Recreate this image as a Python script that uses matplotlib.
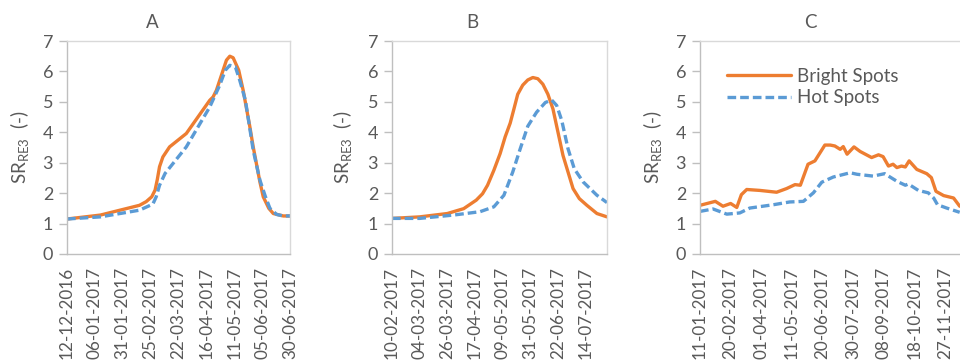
import numpy as np
import matplotlib
matplotlib.use("Agg")
import matplotlib.pyplot as plt
import matplotlib.dates as mdates

plt.rcParams['font.family'] = ['Lato', 'DejaVu Sans']
plt.rcParams['mathtext.fontset'] = 'custom'
plt.rcParams['mathtext.rm'] = 'Lato'

# ---------------- DATA (days after the first tick date) ----------------
a_start = "2016-12-12"
a_days = [0, 30, 65, 71, 76, 79, 81, 83, 86, 92, 107, 128, 131, 134, 140, 143, 146, 149,
          154, 158, 164, 167, 173, 176, 181, 185, 194, 200]
a_bright = [1.15, 1.28, 1.60, 1.72, 1.88, 2.10, 2.45, 2.87, 3.19, 3.52, 3.96, 5.05, 5.16,
            5.38, 6.04, 6.37, 6.50, 6.45, 6.04, 5.38, 4.18, 3.52, 2.37, 1.88, 1.50, 1.33,
            1.25, 1.25]
a_hot_days = [0, 30, 65, 77, 80, 83, 88, 95, 107, 128, 137, 142, 146, 151, 155, 160, 167,
              173, 178, 182, 188, 194, 200]
a_hot = [1.15, 1.22, 1.44, 1.64, 1.88, 2.26, 2.65, 2.97, 3.52, 4.83, 5.55, 6.04, 6.20, 6.15,
         5.70, 5.05, 3.41, 2.43, 1.88, 1.50, 1.30, 1.25, 1.25]
a_ticks = ["12-12-2016", "06-01-2017", "31-01-2017", "25-02-2017", "22-03-2017",
           "16-04-2017", "11-05-2017", "05-06-2017", "30-06-2017"]

b_start = "2017-02-10"
b_days = [0, 22, 44, 57, 67, 72, 76, 81, 86, 90, 94, 97, 100, 104, 108, 112, 116, 120, 124,
          128, 136, 144, 149, 155, 163, 171]
b_bright = [1.17, 1.22, 1.33, 1.49, 1.77, 1.98, 2.26, 2.75, 3.30, 3.85, 4.30, 4.77, 5.25,
            5.55, 5.72, 5.80, 5.76, 5.58, 5.25, 4.77, 3.24, 2.15, 1.82, 1.60, 1.33, 1.22]
b_hot_days = [0, 22, 49, 70, 81, 89, 96, 102, 108, 115, 122, 127, 131, 135, 140, 145, 152,
              163, 171]
b_hot = [1.17, 1.17, 1.28, 1.39, 1.55, 1.93, 2.69, 3.46, 4.20, 4.66, 4.98, 5.06, 4.88, 4.39,
         3.46, 2.80, 2.37, 1.93, 1.69]
b_ticks = ["10-02-2017", "04-03-2017", "26-03-2017", "17-04-2017", "09-05-2017",
           "31-05-2017", "22-06-2017", "14-07-2017"]

c_start = "2017-01-11"
c_days = [0, 20, 30, 40, 48, 54, 61, 78, 100, 113, 124, 131, 141, 150, 163, 170, 176, 183,
          187, 192, 201, 209, 224, 233, 239, 246, 252, 257, 263, 268, 273, 283, 296, 302,
          308, 318, 331, 339]
c_bright = [1.60, 1.73, 1.57, 1.66, 1.53, 1.95, 2.12, 2.09, 2.03, 2.15, 2.28, 2.26, 2.95, 3.06,
            3.58, 3.58, 3.55, 3.44, 3.53, 3.28, 3.52, 3.37, 3.17, 3.26, 3.20, 2.89, 2.95, 2.84,
            2.89, 2.86, 3.06, 2.78, 2.64, 2.51, 2.06, 1.92, 1.84, 1.57]
c_hot_days = [0, 17, 35, 52, 65, 96, 117, 135, 148, 159, 174, 196, 205, 226, 241, 257, 268,
              272, 285, 298, 305, 310, 322, 339]
c_hot = [1.40, 1.48, 1.31, 1.35, 1.51, 1.62, 1.71, 1.73, 2.01, 2.36, 2.53, 2.67, 2.62, 2.56,
         2.64, 2.39, 2.26, 2.30, 2.09, 2.01, 1.84, 1.62, 1.51, 1.37]
c_ticks = ["11-01-2017", "20-02-2017", "01-04-2017", "11-05-2017", "20-06-2017",
           "30-07-2017", "08-09-2017", "18-10-2017", "27-11-2017"]

ORANGE = "#ED7D31"
BLUE = "#5B9BD5"
GREY = "#595959"
AXIS = "#BFBFBF"


def to_dates(start, days):
    return np.datetime64(start) + np.array(days, dtype="timedelta64[D]")


def tick_dates(labels):
    return [np.datetime64("%s-%s-%s" % (t[6:], t[3:5], t[:2])) for t in labels]


fig = plt.figure(figsize=(9.6, 3.63), dpi=100)

panels = [
    ("A", [67, 223], a_start, a_days, a_bright, a_hot_days, a_hot, a_ticks, 200, 152, 20),
    ("B", [392, 215], b_start, b_days, b_bright, b_hot_days, b_hot, b_ticks, 171, 472, 343),
    ("C", [700, 262], c_start, c_days, c_bright, c_hot_days, c_hot, c_ticks, 342, 810, 653),
]

for name, (left, width), start, d1, v1, d2, v2, ticks, span, title_x, ylab_x in panels:
    ax = fig.add_axes([left / 960, 109 / 363, width / 960, 213 / 363])
    ax.plot(to_dates(start, d1), v1, color=ORANGE, lw=2.4, label="Bright Spots",
            solid_joinstyle="round", solid_capstyle="round")
    ax.plot(to_dates(start, d2), v2, color=BLUE, lw=2.4, ls=(0, (2.6, 1.2)), label="Hot Spots")

    ax.set_xlim(np.datetime64(start), np.datetime64(start) + np.timedelta64(span, "D"))
    ax.set_ylim(0, 7)
    ax.set_yticks(range(8))
    ax.set_xticks(tick_dates(ticks))
    ax.xaxis.set_major_formatter(mdates.DateFormatter("%d-%m-%Y"))
    ax.tick_params(axis="x", length=0, pad=9.5, labelrotation=90, labelsize=12.3, colors=GREY)
    ax.tick_params(axis="y", length=6, width=1, color=AXIS, pad=4, labelsize=13, labelcolor=GREY)
    for sp in ax.spines.values():
        sp.set_color("#D9D9D9")
        sp.set_linewidth(1)
    ax.spines["left"].set_color(AXIS)
    ax.spines["bottom"].set_color(AXIS)

    fig.text(title_x / 960, 1 - 22 / 363, name, ha="center", va="center", fontsize=13.5, color=GREY)
    fig.text(ylab_x / 960, 1 - 147 / 363, r"SR$_{\mathregular{RE3}}$  (-)", rotation=90,
             ha="center", va="center", fontsize=13.5, color=GREY)

    if name == "C":
        ax.legend(loc="upper left", bbox_to_anchor=(0.103, 0.875), frameon=False,
                  borderpad=0, borderaxespad=0, handlelength=3.4, handletextpad=0.35,
                  labelspacing=0.25, fontsize=13.5, labelcolor=GREY)

fig.savefig("out.png", dpi=100)
